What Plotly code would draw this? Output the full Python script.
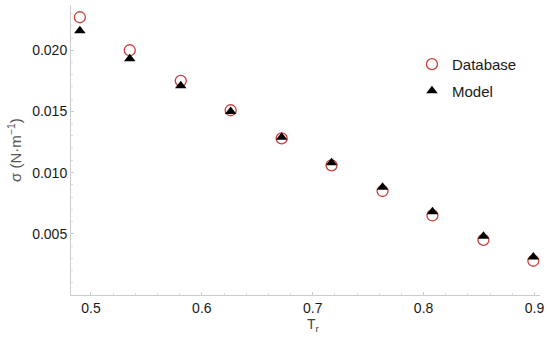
import plotly.graph_objects as go

tr = [0.490, 0.535, 0.581, 0.626, 0.672, 0.717, 0.763, 0.808, 0.854, 0.899]
database = [0.0227, 0.0200, 0.0175, 0.0151, 0.0128, 0.0106, 0.0085, 0.0065, 0.0045, 0.0028]
model = [0.0216, 0.0193, 0.0171, 0.0150, 0.0129, 0.0108, 0.0088, 0.0068, 0.0048, 0.0031]
x_ticks = [0.5, 0.6, 0.7, 0.8, 0.9]
y_ticks = [0.005, 0.010, 0.015, 0.020]

FONT = "Liberation Sans, Arial, sans-serif"

fig = go.Figure()
fig.add_trace(go.Scatter(
    x=tr, y=database, mode="markers", name="Database", legendgroup="a",
    marker=dict(symbol="circle-open", size=11, color="#c8403c", line=dict(width=1.3, color="#c8403c")),
))
fig.add_trace(go.Scatter(
    x=tr, y=model, mode="markers", name="Model", legendgroup="b",
    marker=dict(symbol="triangle-up", size=10, color="#000000"),
))

axis_font = dict(family=FONT, size=14, color="#1a1a1a")
fig.update_layout(
    width=550, height=337,
    margin=dict(l=71, r=10, t=5, b=42),
    paper_bgcolor="white", plot_bgcolor="white",
    showlegend=True,
    legend=dict(x=0.727, y=0.852, xanchor="left", yanchor="top",
                font=dict(family=FONT, size=15, color="#1a1a1a"),
                tracegroupgap=4, bgcolor="rgba(0,0,0,0)"),
    xaxis=dict(range=[0.482, 0.905], tickvals=x_ticks, ticktext=["0.5", "0.6", "0.7", "0.8", "0.9"],
               showgrid=False, zeroline=False, showline=True, linecolor="#cccccc", linewidth=1,
               ticks="inside", ticklen=3, tickcolor="#cccccc", tickfont=axis_font, automargin=False,
               minor=dict(dtick=0.02, ticks="inside", ticklen=2, tickcolor="#dddddd")),
    yaxis=dict(range=[0, 0.0237], tickvals=y_ticks, ticktext=["0.005", "0.010", "0.015", "0.020"],
               showgrid=False, zeroline=False, showline=True, linecolor="#cccccc", linewidth=1,
               ticks="inside", ticklen=3, tickcolor="#cccccc", tickfont=axis_font, automargin=False,
               minor=dict(dtick=0.001, ticks="inside", ticklen=2, tickcolor="#dddddd")),
    annotations=[
        dict(text="T<sub>r</sub>", xref="paper", yref="paper", x=(313 - 71) / 469, y=-(325 - 295) / 290,
             xanchor="center", yanchor="middle", showarrow=False,
             font=dict(family=FONT, size=14, color="#444444")),
        dict(text="σ (N·m<sup>−1</sup>)", xref="paper", yref="paper", x=-(71 - 14) / 469, y=(295 - 150) / 290,
             xanchor="center", yanchor="middle", textangle=-90, showarrow=False,
             font=dict(family=FONT, size=15, color="#555555")),
    ],
)

fig.write_html("out.html", config={"displayModeBar": False},
               post_script="document.body.style.margin='0';")
